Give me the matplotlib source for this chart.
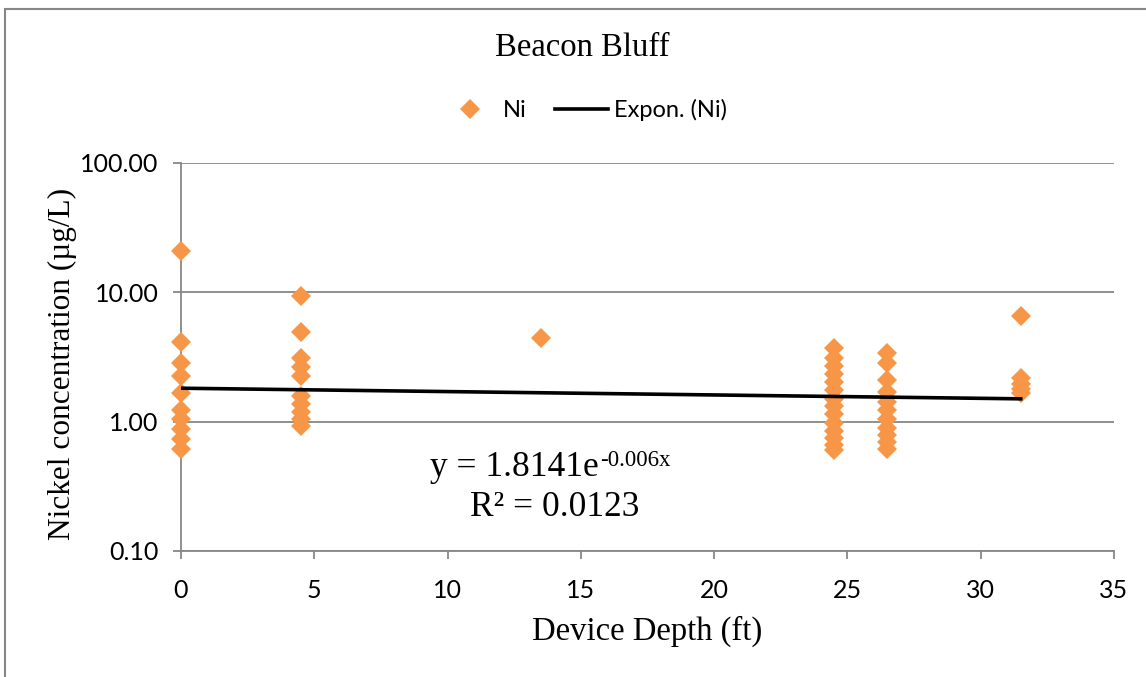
import numpy as np
import matplotlib
matplotlib.use("Agg")
import matplotlib.pyplot as plt
from matplotlib.lines import Line2D
from matplotlib.patches import Rectangle

# Nickel concentrations (µg/L) by device depth (ft)
depth_0 = [21.0, 4.16, 2.86, 2.27, 1.68, 1.24, 1.04, 0.87, 0.73, 0.61]
depth_4_5 = [9.43, 4.97, 3.13, 2.66, 2.27, 1.59, 1.38, 1.19, 1.04, 0.92]
depth_13_5 = [4.46]
depth_24_5 = [3.74, 3.13, 2.71, 2.35, 2.04, 1.77, 1.51, 1.31, 1.15, 0.98,
              0.85, 0.75, 0.66, 0.60]
depth_26_5 = [3.42, 2.86, 2.11, 1.71, 1.43, 1.22, 1.04, 0.90, 0.79, 0.70, 0.62]
depth_31_5 = [6.52, 2.19, 1.97, 1.80, 1.68]

depth_groups = [0.0, 4.5, 13.5, 24.5, 26.5, 31.5]
ni_groups = [depth_0, depth_4_5, depth_13_5, depth_24_5, depth_26_5, depth_31_5]

# Exponential trendline coefficients: y = a * exp(b x)
trend_a = 1.8141
trend_b = -0.006
r_squared = 0.0123

x_ticks = [0, 5, 10, 15, 20, 25, 30, 35]
y_ticks = [0.1, 1, 10, 100]
y_tick_labels = ["0.10", "1.00", "10.00", "100.00"]

W, H = 1146, 677
fig = plt.figure(figsize=(W / 100, H / 100), dpi=100)

ax = fig.add_axes([181 / W, 1 - 551 / H, (1114 - 181) / W, (551 - 163) / H])

orange = "#F79646"
grid_gray = "#878787"
serif = "Liberation Serif"
sans = "Lato"

xs = np.concatenate([[d] * len(v) for d, v in zip(depth_groups, ni_groups)])
ys = np.concatenate([np.asarray(v, dtype=float) for v in ni_groups])
ax.plot(xs, ys, linestyle="none", marker="D", markersize=10.5,
        color=orange, markeredgewidth=0, zorder=3, clip_on=False)

xt = np.linspace(min(depth_groups), max(depth_groups), 100)
ax.plot(xt, trend_a * np.exp(trend_b * xt), color="black", lw=2.6, zorder=4)

ax.set_yscale("log")
ax.set_ylim(0.1, 100)
ax.set_xlim(0, 35)
ax.set_yticks(y_ticks)
ax.set_yticklabels(y_tick_labels)
ax.yaxis.set_minor_locator(matplotlib.ticker.NullLocator())
ax.set_xticks(x_ticks)
ax.set_xticklabels([str(t) for t in x_ticks])

ax.grid(axis="y", color=grid_gray, lw=1.3, zorder=0)
ax.set_axisbelow(True)
for side in ("top", "right"):
    ax.spines[side].set_visible(False)
for side in ("left", "bottom"):
    ax.spines[side].set_color(grid_gray)
    ax.spines[side].set_linewidth(1.3)
ax.tick_params(axis="both", direction="out", length=6, width=1.3,
               color=grid_gray, labelsize=18, labelcolor="black")
ax.tick_params(axis="y", pad=10)
ax.tick_params(axis="x", pad=14)
for lab in ax.get_xticklabels() + ax.get_yticklabels():
    lab.set_fontfamily(sans)

ax.set_xlabel("Device Depth (ft)", fontfamily=serif, fontsize=23.5, labelpad=10)
ax.set_ylabel("Nickel concentration (µg/L)", fontfamily=serif, fontsize=22.5)
ax.yaxis.set_label_coords(77 / W, 1 - 364 / H, transform=fig.transFigure)

fig.text(582 / W, 1 - 48 / H, "Beacon Bluff", ha="center", va="center",
         fontfamily=serif, fontsize=23.5)

# Trendline equation, with the exponent as a raised smaller text
eq_main = fig.text(430 / W, 1 - 467 / H, "y = %.4fe" % trend_a, ha="left",
                   va="center", fontfamily=serif, fontsize=25.5)
fig.canvas.draw()
bb = eq_main.get_window_extent()
fig.text((bb.x1 + 1) / W, (bb.y1 + 1) / H, "%gx" % trend_b, ha="left",
         va="top", fontfamily=serif, fontsize=16.5)
fig.text(555 / W, 1 - 507 / H, "R² = %.4f" % r_squared, ha="center",
         va="center", fontfamily=serif, fontsize=25.5)

handles = [
    Line2D([], [], linestyle="none", marker="D", markersize=10.5,
           color=orange, markeredgewidth=0),
    Line2D([], [], color="black", lw=2.6),
]
leg = fig.legend(handles, ["Ni", "Expon. (Ni)"], loc="center",
                 bbox_to_anchor=(585 / W, 1 - 110 / H), ncol=2, frameon=False,
                 prop={"family": sans, "size": 17}, handlelength=2.25,
                 handletextpad=0.25, columnspacing=1.2, borderpad=0)

# Chart area border
fig.patches.append(Rectangle((5 / W, -0.05), 1.1, 1 - 9 / H + 0.05,
                             transform=fig.transFigure, fill=False,
                             edgecolor=grid_gray, lw=1.5))

fig.savefig("out.png", dpi=100)
